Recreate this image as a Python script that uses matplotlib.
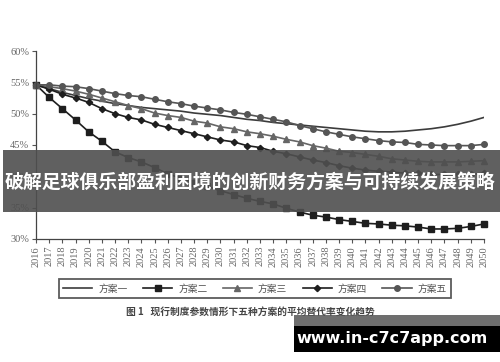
import matplotlib
matplotlib.use('Agg')
import matplotlib.pyplot as plt
from matplotlib.patches import Rectangle

plt.rcParams['font.family'] = ['Noto Sans CJK SC', 'DejaVu Sans']

# 数据 (平均替代率, %)
years = list(range(2016, 2051))
plan1 = [54.6, 54.0, 53.4, 52.9, 52.4, 52.0, 51.6, 51.3, 51.0, 50.8, 50.6, 50.4,
         50.1, 49.9, 49.7, 49.4, 49.1, 48.9, 48.6, 48.4, 48.2, 48.0, 47.8, 47.6,
         47.4, 47.2, 47.1, 47.1, 47.2, 47.4, 47.6, 47.9, 48.3, 48.8, 49.4]
plan2 = [54.6, 52.6, 50.8, 49.0, 47.1, 45.6, 43.9, 43.0, 42.3, 41.4, 40.4, 39.7,
         39.0, 38.4, 37.7, 37.1, 36.5, 36.0, 35.6, 34.9, 34.3, 33.8, 33.5, 33.1,
         32.8, 32.5, 32.4, 32.2, 32.1, 31.9, 31.6, 31.6, 31.7, 32.0, 32.4]
plan3 = [54.6, 54.3, 54.0, 53.6, 53.1, 52.5, 51.9, 51.3, 50.8, 50.1, 49.7, 49.4,
         48.8, 48.5, 47.9, 47.6, 47.1, 46.8, 46.4, 45.9, 45.5, 44.9, 44.5, 44.0,
         43.8, 43.5, 43.2, 42.8, 42.6, 42.4, 42.3, 42.3, 42.3, 42.4, 42.5]
plan4 = [54.6, 53.9, 53.1, 52.5, 51.8, 50.8, 50.0, 49.4, 49.0, 48.3, 47.8, 47.3,
         46.8, 46.3, 45.8, 45.5, 44.9, 44.6, 44.0, 43.6, 43.1, 42.6, 42.2, 41.7,
         41.3, 41.0, 40.8, 40.7, 40.5, 40.5, 40.3, 40.3, 40.3, 40.3, 40.5]
plan5 = [54.6, 54.6, 54.4, 54.3, 54.0, 53.6, 53.2, 52.9, 52.7, 52.3, 51.9, 51.6,
         51.2, 50.9, 50.6, 50.2, 49.9, 49.5, 49.1, 48.7, 48.1, 47.6, 47.1, 46.7,
         46.3, 46.0, 45.7, 45.5, 45.4, 45.1, 45.0, 44.9, 44.9, 44.9, 45.1]
names = ['方案一', '方案二', '方案三', '方案四', '方案五']
y_ticks = [30, 35, 40, 45, 50, 55, 60]

title = '破解足球俱乐部盈利困境的创新财务方案与可持续发展策略'
caption = '图 1   现行制度参数情形下五种方案的平均替代率变化趋势'
site = 'www.in-c7c7app.com'

fig = plt.figure(figsize=(5, 3.62), dpi=100)
ax = fig.add_axes([0.072, 0.3398, 0.896, 0.5193])

ax.plot(years, plan1, color='#3c3c3c', lw=1.2, label=names[0])
ax.plot(years, plan2, color='#1e1e1e', lw=1.2, marker='s', ms=3.8, label=names[1], clip_on=False)
ax.plot(years, plan3, color='#666666', lw=1.2, marker='^', ms=4.2, label=names[2], clip_on=False)
ax.plot(years, plan4, color='#1e1e1e', lw=1.2, marker='D', ms=3.2, label=names[3], clip_on=False)
ax.plot(years, plan5, color='#555555', lw=1.2, marker='o', ms=4.0, label=names[4], clip_on=False)

ax.set_xlim(2016, 2050)
ax.set_ylim(30, 60)
ax.set_yticks(y_ticks)
ax.set_yticklabels([f'{v}%' for v in y_ticks], family='Liberation Serif', fontsize=7.5, color='#666666')
ax.set_xticks(years)
ax.set_xticklabels([str(y) for y in years], rotation=90, family='Liberation Serif',
                   fontsize=7.5, color='#666666')
ax.tick_params(axis='both', length=3, width=0.8, color='#555555', pad=2)
for s in ['top', 'right']:
    ax.spines[s].set_visible(False)
for s in ['left', 'bottom']:
    ax.spines[s].set_color('#444444')
    ax.spines[s].set_linewidth(0.9)

leg = fig.legend(loc='center', bbox_to_anchor=(0.51, 0.203), ncol=5, fontsize=7,
                 frameon=True, fancybox=False, handlelength=3.0, columnspacing=1.6,
                 handletextpad=0.6, borderpad=0.45)
leg.get_frame().set_edgecolor('#333333')
leg.get_frame().set_linewidth(1.3)
for t in leg.get_texts():
    t.set_color('#555555')

fig.text(0.5, 0.138, caption, ha='center', va='center', fontsize=7, color='#444444',
         fontweight='bold')

# 标题横幅
fig.patches.append(Rectangle((0.006, 1 - 212 / 362), 0.994, 62 / 362, transform=fig.transFigure,
                             facecolor='#4f4f4f', alpha=0.9, edgecolor='none', zorder=5))
fig.text(0.5, 1 - 182 / 362, title, ha='center', va='center', fontsize=13.6,
         color='white', fontweight='bold', zorder=6)

# 网址水印
fig.patches.append(Rectangle((294 / 500, 1 - 326 / 362), 206 / 500, 11 / 362, transform=fig.transFigure,
                             facecolor='#555555', alpha=0.85, edgecolor='none', zorder=5))
fig.patches.append(Rectangle((294 / 500, 1 - 352 / 362), 206 / 500, 26 / 362, transform=fig.transFigure,
                             facecolor='black', edgecolor='none', zorder=5))
fig.text(392 / 500, 1 - 339 / 362, site, ha='center', va='center', fontsize=11.5,
         color='white', fontweight='bold', family='DejaVu Sans', zorder=6)

fig.savefig('out.png', dpi=100)
